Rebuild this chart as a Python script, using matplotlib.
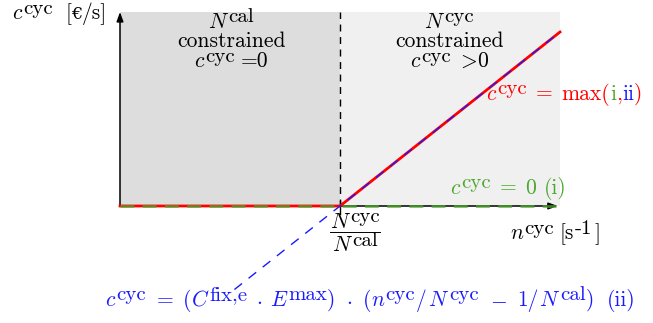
import matplotlib
matplotlib.use("Agg")
import matplotlib.pyplot as plt
from matplotlib.lines import Line2D

plt.rcParams['mathtext.fontset'] = 'cm'
plt.rcParams['font.family'] = ['cmr10', 'DejaVu Serif']
plt.rcParams['axes.formatter.use_mathtext'] = True

# data (n in units of the break-even rate, c in arbitrary units)
n_axis = [0.0, 2.0]
n_break = 1.0
c_top = 1.115

n_max = [0.0, 1.0, 2.0]       # c = max(i, ii)
c_max = [0.0, 0.0, 1.0]
n_zero = [0.0, 2.0]           # (i) c = 0
c_zero = [0.0, 0.0]
n_ii = [0.52, 2.0]            # (ii) linear cost
c_ii = [-0.48, 1.0]

RED = '#ff0000'
GREEN = '#4ea72e'
BLUE = '#1a1aff'

W, H = 653, 323
FS = 15.5     # base text size
FS_SUP = 15   # superscript size
SUP = 5.5     # superscript raise in px

fig = plt.figure(figsize=(W / 100, H / 100), dpi=100)
ax = fig.add_axes([0, 0, 1, 1])
# pixel mapping: x = 120 + 220 n, y = 206 - 174 c
ax.set_xlim(-120 / 220, (W - 120) / 220)
ax.set_ylim(-(H - 206) / 174, 206 / 174)
ax.axis('off')

# shaded regions
ax.fill_between([n_axis[0], n_break], 0, c_top, color='#dddddd', lw=0, zorder=0)
ax.fill_between([n_break, n_axis[1]], 0, c_top, color='#f0f0f0', lw=0, zorder=0)

# divider + tick
ax.plot([n_break, n_break], [0, c_top], color='black', lw=1.0,
        dashes=(5, 4), zorder=2)
ax.plot([n_break, n_break], [-0.045, 0.03], color='black', lw=1.0, zorder=2)

# axes arrows
arr = dict(arrowstyle='-|>,head_length=0.55,head_width=0.2', color='black',
           lw=1.1, shrinkA=0, shrinkB=0)
ax.annotate('', xy=(n_axis[1] - 0.01, 0), xytext=(n_axis[0], 0),
            arrowprops=arr, zorder=2)
ax.annotate('', xy=(n_axis[0], c_top), xytext=(n_axis[0], 0),
            arrowprops=arr, zorder=2)

# curves
ax.plot(n_max, c_max, color=RED, lw=2.0, zorder=3)
ax.plot(n_zero, c_zero, color=GREEN, lw=2.0, dashes=(5, 3), alpha=0.75, zorder=4)
ax.plot(n_ii, c_ii, color=BLUE, lw=1.0, dashes=(7, 6), zorder=5)

renderer = fig.canvas.get_renderer()


def piece_kw(kind):
    if kind == 's':
        return dict(fontsize=FS_SUP)
    if kind == 'x':
        return dict(fontsize=FS - 3, family='DejaVu Serif')
    return dict(fontsize=FS)


def rich(x, y, pieces, color='black', ha='left'):
    # pieces: str -> baseline text, (str, 's') -> superscript, number -> gap px
    items = []
    total = 0
    for p in pieces:
        if isinstance(p, (int, float)):
            total += p
            continue
        if isinstance(p, str):
            p = (p, 'b')
        s, kind = p[0], p[1]
        col = p[2] if len(p) > 2 else color
        t = fig.text(0, 0, s, **piece_kw(kind))
        w = t.get_window_extent(renderer).width
        t.remove()
        items.append((total, s, kind, col))
        total += w
    x0 = x - total / 2 if ha == 'center' else x
    for off, s, kind, col in items:
        yy = y - SUP if kind == 's' else y
        fig.text((x0 + off) / W, 1 - yy / H, s, color=col, va='baseline',
                 ha='left', **piece_kw(kind))
    return x0, total


# axis labels
rich(12, 19, ['$c$', ('cyc', 's'), 12, '[', ('€', 'x'), '/s]'])
rich(510, 239, ['$n$', ('cyc', 's'), 5, '[s', 1, ('-1', 's'), 3, ']'])

# break-even tick label
x0, wn = rich(355, 228, ['$N$', ('cyc', 's')], ha='center')
rich(355, 251, ['$N$', ('cal', 's')], ha='center')
fig.add_artist(Line2D([x0 / W, (x0 + wn) / W], [1 - 232 / H] * 2,
                      color='black', lw=0.7))

# region annotations
for cx, sup, rel in [(231, 'cal', '=0'), (449, 'cyc', ['$>$', '0'])]:
    rich(cx, 28, ['$N$', (sup, 's')], ha='center')
    rich(cx, 47, ['constrained'], ha='center')
    tail = [rel] if isinstance(rel, str) else rel
    rich(cx, 67, ['$c$', ('cyc', 's'), 6] + tail, ha='center')

# curve labels
rich(486, 99.5, ['$c$', ('cyc', 's'), 9, '=', 9, 'max(', ('i', 'b', GREEN), ',',
                 ('ii', 'b', BLUE), ')'], color=RED)
rich(450, 193.5, ['$c$', ('cyc', 's'), 9, '=', 8, '0', 8, '(i)'], color=GREEN)
rich(105, 306, ['$c$', ('cyc', 's'), 11, '=', 9, '(', '$C$', ('fix,e', 's'), 8,
                r'$\cdot$', 8, '$E$', ('max', 's'), ')', 10, r'$\cdot$', 11, '(',
                '$n$', ('cyc', 's'), 1, '/', 1, '$N$', ('cyc', 's'), 11, '$-$', 11, '1/',
                '$N$', ('cal', 's'), ')', 13, '(ii)'], color=BLUE)

fig.savefig('out.png', dpi=100)
